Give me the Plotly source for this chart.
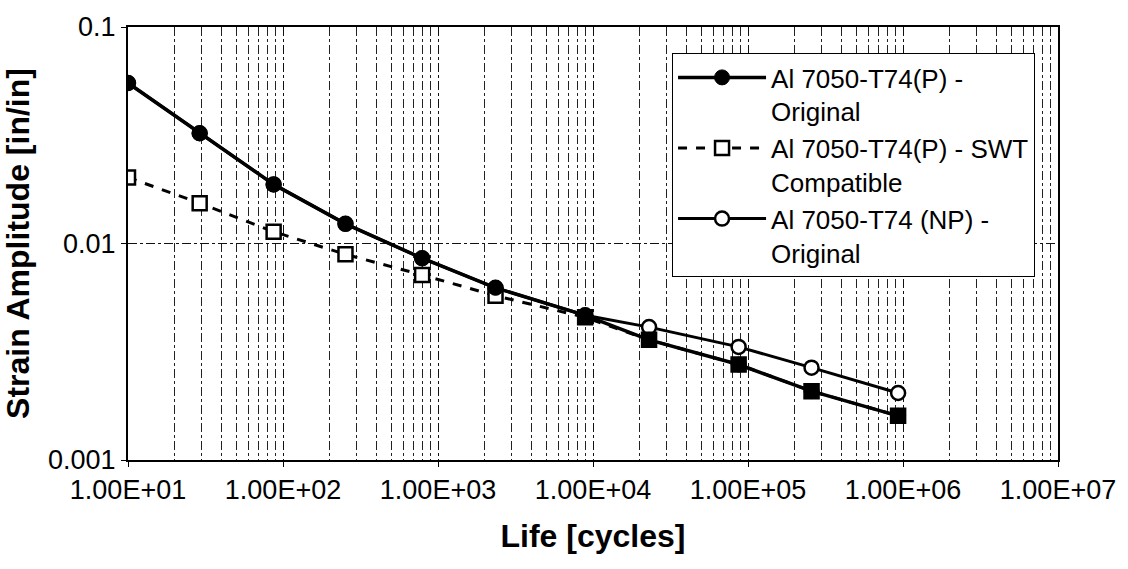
import plotly.graph_objects as go

life = [10, 29, 87, 253, 790, 2350, 8900, 23000, 87000, 257000, 930000]
p_original = [0.0551, 0.0323, 0.01875, 0.01233, 0.00855, 0.00624, 0.00466, 0.00359, 0.00276, 0.00208, 0.00160]
p_swt = [0.0202, 0.01536, 0.01134, 0.00891, 0.00716, 0.00574, 0.00456, 0.00359, 0.00276, 0.00208, 0.00160]
np_original = [0.0551, 0.0323, 0.01875, 0.01233, 0.00855, 0.00624, 0.00466, 0.00411, 0.00333, 0.00267, 0.00204]

x_tickvals = [1e1, 1e2, 1e3, 1e4, 1e5, 1e6, 1e7]
x_ticktext = ["1.00E+01", "1.00E+02", "1.00E+03", "1.00E+04", "1.00E+05", "1.00E+06", "1.00E+07"]
y_tickvals = [0.001, 0.01, 0.1]
y_ticktext = ["0.001", "0.01", "0.1"]

names = ["Al 7050-T74(P) -<br>Original",
         "Al 7050-T74(P) - SWT<br>Compatible",
         "Al 7050-T74 (NP) -<br>Original"]

minor_x = [k * 10 ** d for d in range(1, 7) for k in range(2, 10)]
swt_fill = ["white"] * 6 + ["black"] * 5

FONT = "Liberation Sans, Arial, sans-serif"

fig = go.Figure()
fig.add_trace(go.Scatter(
    x=life, y=np_original, name=names[2], legendrank=3,
    mode="lines+markers",
    line=dict(color="black", width=3),
    marker=dict(symbol="circle", size=14, color="white", line=dict(color="black", width=2.5)),
))
fig.add_trace(go.Scatter(
    x=life, y=p_swt, name=names[1], legendrank=2,
    mode="lines+markers",
    line=dict(color="black", width=3, dash="dash"),
    marker=dict(symbol="square", size=14, color=swt_fill, line=dict(color="black", width=2.5)),
))
fig.add_trace(go.Scatter(
    x=life, y=p_original, name=names[0], legendrank=1,
    mode="lines+markers",
    line=dict(color="black", width=3.5),
    marker=dict(symbol="circle", size=15, color="black", line=dict(color="black", width=1)),
))

fig.update_layout(
    width=1128, height=569,
    margin=dict(l=127, r=63, t=20, b=109),
    paper_bgcolor="white", plot_bgcolor="white",
    font=dict(family=FONT, size=27, color="black"),
    showlegend=True,
    legend=dict(
        x=0.585, y=0.94, xanchor="left", yanchor="top",
        bgcolor="white", bordercolor="black", borderwidth=1,
        font=dict(family=FONT, size=26, color="black"),
        valign="top", tracegroupgap=0, itemwidth=88,
    ),
    xaxis=dict(
        type="log", range=[1, 7],
        tickmode="array", tickvals=x_tickvals, ticktext=x_ticktext,
        ticks="outside", ticklen=5, tickcolor="black",
        showline=True, linecolor="black", linewidth=2, mirror=True,
        showgrid=True, gridcolor="#111", gridwidth=1, griddash="dashdot",
        minor=dict(tickmode="array", tickvals=minor_x, showgrid=True,
                   gridcolor="#222", gridwidth=1, griddash="dashdot", ticks=""),
        tickfont=dict(family=FONT, size=27),
        title=dict(text="<b>Life [cycles]</b>", font=dict(family=FONT, size=32), standoff=20),
        zeroline=False,
    ),
    yaxis=dict(
        type="log", range=[-3, -1],
        tickmode="array", tickvals=y_tickvals, ticktext=y_ticktext,
        ticks="outside", ticklen=5, tickcolor="black",
        showline=True, linecolor="black", linewidth=2, mirror=True,
        showgrid=True, gridcolor="#111", gridwidth=1, griddash="dashdot",
        tickfont=dict(family=FONT, size=27),
        title=dict(text="<b>Strain Amplitude [in/in]</b>", font=dict(family=FONT, size=32), standoff=14),
        zeroline=False,
    ),
)

fig.write_html("out.html")
